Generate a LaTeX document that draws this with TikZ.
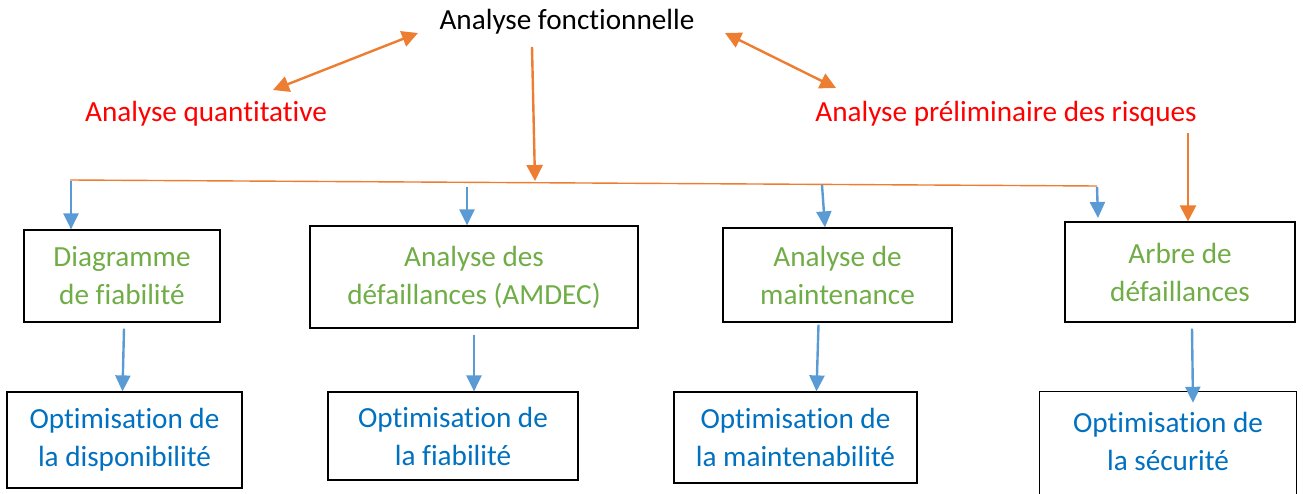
\documentclass[tikz,border=0pt]{standalone}
\usepackage{fontspec}
\setmainfont{Carlito}[Ligatures=NoCommon]
\usetikzlibrary{arrows.meta,calc}
\definecolor{linkorange}{HTML}{ED7D31}
\definecolor{linkblue}{HTML}{5B9BD5}
\definecolor{stepgreen}{HTML}{70AD47}
\definecolor{goalblue}{HTML}{0070C0}
\definecolor{riskred}{HTML}{FF0000}
\tikzset{
  txt/.style={inner sep=0pt, font=\fontsize{29.2}{38}\selectfont, align=center},
  stepbox/.style={txt, draw=black, line width=1.2pt, text=stepgreen},
  goalbox/.style={txt, draw=black, line width=1.2pt, text=goalblue},
  oarrow/.style={draw=linkorange, line width=2.4pt, -{Triangle[width=16pt,length=16pt]}},
  odouble/.style={draw=linkorange, line width=2.4pt, {Triangle[width=16pt,length=16pt]}-{Triangle[width=16pt,length=16pt]}},
  barrow/.style={draw=linkblue, line width=2.4pt, -{Triangle[width=15pt,length=16pt]}},
  bus/.style={draw=linkorange, line width=1.4pt}
}
\begin{document}
\begin{tikzpicture}[x=1pt,y=-1pt]
\useasboundingbox (0,0) rectangle (1303,494);
\clip (0,0) rectangle (1303,494);

% top level
\node[txt, anchor=base] (af) at (567,30) {Analyse fonctionnelle};
\node[txt, anchor=base, text=riskred] (aq) at (206,122) {Analyse quantitative};
\node[txt, anchor=base, text=riskred] (apr) at (1006,122) {Analyse préliminaire des risques};

% analysis boxes
\node[stepbox, minimum width=196, minimum height=92] (d1) at (122,276) {Diagramme\\de fiabilité};
\node[stepbox, minimum width=328, minimum height=102] (d2) at (474,277) {Analyse des\\défaillances (AMDEC)};
\node[stepbox, minimum width=229, minimum height=94] (d3) at (837.5,275) {Analyse de\\maintenance};
\node[stepbox, minimum width=230, minimum height=100] (d4) at (1180,272) {Arbre de\\défaillances};

% optimisation boxes
\node[goalbox, minimum width=235, minimum height=96] (o1) at (124.5,440) {Optimisation de\\la disponibilité};
\node[goalbox, minimum width=250, minimum height=88] (o2) at (453,436) {Optimisation de\\la fiabilité};
\node[goalbox, minimum width=243, minimum height=91] (o3) at (795.5,437.5) {Optimisation de\\la maintenabilité};
\node[txt, text=goalblue, minimum width=256, minimum height=98] (o4) at (1168,441) {Optimisation de\\la sécurité};
\draw[black, line width=1.2pt] ([yshift=-40pt]o4.south west) -- (o4.north west) -- (o4.north east) -- ([yshift=-40pt]o4.south east);

% links around the functional analysis
\coordinate (aqT) at (273,90);
\coordinate (afL) at (418,33);
\coordinate (afR) at (725,33);
\coordinate (aprT) at (836,88);
\draw[odouble] (aqT) -- (afL);
\draw[odouble] (afR) -- (aprT);

\coordinate (afS) at (532,47);
\coordinate (busM) at (535,181);
\draw[oarrow] (afS) -- (busM);

% distribution line
\coordinate (busL) at (70,180);
\coordinate (busR) at (1097,186);
\draw[bus] (busL) -- (busR);

\coordinate (t1) at (71,181);
\coordinate (t2) at (467,187);
\coordinate (t3) at (822,185);
\coordinate (t4) at (1097,187);
\coordinate (t4e) at (1098,218);
\draw[barrow] (t1) -- (t1 |- d1.north);
\draw[barrow] (t2) -- (t2 |- d2.north);
\draw[barrow] (t3) -- ([xshift=3pt]t3 |- d3.north);
\draw[barrow] (t4) -- (t4e);

\coordinate (aprS) at (1188,133);
\draw[oarrow] (aprS) -- (aprS |- d4.north);

% from analyses to optimisations
\draw[barrow] ([xshift=2pt,yshift=-6pt]d1.south) -- ([xshift=-2pt]o1.north);
\draw[barrow] ([yshift=-6pt]d2.south) -- (o2.north -| d2.south);
\draw[barrow] ([xshift=-19pt,yshift=-2pt]d3.south) -- ([xshift=21pt]o3.north);
\draw[barrow] ([xshift=12pt,yshift=-6pt]d4.south) -- ([xshift=25pt,yshift=-11pt]o4.north);
\end{tikzpicture}
\end{document}
